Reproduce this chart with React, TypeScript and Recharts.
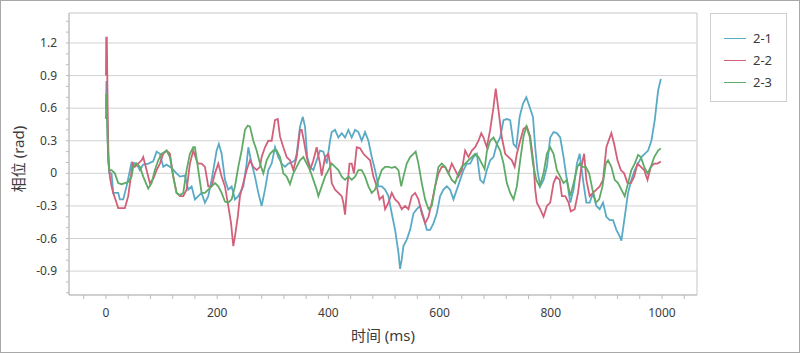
import React from 'react';
import { LineChart, Line, XAxis, YAxis, ReferenceLine, ReferenceArea, Legend } from 'recharts';

const seriesNames = ['2-1', '2-2', '2-3'];
const seriesColors = ['#5aaac6', '#d2607a', '#5fab66'];

const t21 = [0,0.8,3,6,10,13,22,25,31,37,46,55,61,67,76,85,91,97,103,109,118,127,133,142,148,154,160,166,172,178,184,190,196,199,203,208,214,220,226,232,238,247,253,256,262,268,274,280,286,292,298,304,310,316,322,328,334,340,343,349,354,358,362,367,373,379,385,391,397,403,406,412,418,424,430,436,442,448,454,460,466,472,478,484,490,496,502,508,514,520,526,529,532,535,541,547,553,559,565,571,577,583,589,595,601,607,613,619,625,631,637,643,649,655,661,667,673,679,685,691,697,703,709,715,721,727,733,738,744,750,756,762,768,772,776,781,787,793,799,805,811,817,823,829,835,841,847,852,858,864,870,876,882,888,894,900,906,912,918,924,927,933,939,945,951,957,963,969,975,981,987,993,998];
const v21 = [0.6,0.85,0.3,0.0,0.0,-0.18,-0.18,-0.24,-0.24,-0.12,0.1,0.09,0.03,0.08,0.09,0.11,0.2,0.18,0.06,0.08,0.05,0.0,-0.03,-0.02,-0.15,-0.12,-0.24,-0.21,-0.18,-0.27,-0.21,-0.06,0.12,0.21,0.27,0.18,-0.06,-0.15,-0.12,-0.24,-0.21,-0.12,0.09,0.24,0.09,-0.03,-0.18,-0.3,-0.15,0.03,0.09,0.24,0.15,0.09,0.06,0.09,0.1,0.12,0.18,0.43,0.52,0.43,0.15,0.06,0.03,0.12,0.21,0.2,0.09,0.3,0.38,0.4,0.33,0.37,0.33,0.4,0.33,0.4,0.38,0.3,0.38,0.3,0.15,0.03,-0.12,-0.12,-0.15,-0.21,-0.37,-0.52,-0.73,-0.88,-0.79,-0.67,-0.61,-0.52,-0.37,-0.33,-0.3,-0.4,-0.52,-0.52,-0.46,-0.37,-0.21,-0.15,-0.12,-0.15,-0.24,-0.15,-0.06,0.03,0.09,0.09,0.15,0.18,-0.06,-0.09,0.03,0.12,0.15,0.27,0.33,0.49,0.5,0.49,0.27,0.24,0.52,0.64,0.7,0.61,0.52,0.24,0.03,-0.12,-0.06,0.06,0.33,0.38,0.37,0.33,0.15,-0.06,-0.27,-0.15,0.09,0.18,-0.06,-0.27,-0.27,-0.18,-0.3,-0.33,-0.27,-0.4,-0.43,-0.43,-0.52,-0.58,-0.62,-0.4,-0.18,-0.06,0.03,0.09,0.15,0.18,0.21,0.3,0.49,0.76,0.87];

const t22 = [0,0.5,1.5,3,4.5,7,10,13,19,22,28,34,40,44,48,52,58,64,67,73,79,85,91,97,103,109,115,121,127,133,139,145,151,157,163,166,172,178,184,190,196,202,208,214,220,225,229,232,237,241,247,253,259,265,271,277,280,286,292,298,304,309,313,319,325,331,337,343,349,352,356,361,367,373,379,385,388,394,400,403,406,412,418,424,427,430,433,438,442,446,451,457,463,469,475,481,487,492,498,502,508,514,520,526,532,538,544,550,556,562,568,574,580,586,592,598,604,610,616,622,628,634,640,646,652,658,664,670,675,679,685,691,697,701,706,712,718,724,730,735,739,745,751,757,763,769,772,775,781,787,793,799,805,810,816,820,826,832,836,843,849,855,860,864,870,876,882,888,894,900,904,909,914,920,926,932,938,944,950,956,962,968,974,980,986,992,998];
const v22 = [0.9,1.25,1.25,0.6,0.15,-0.03,-0.12,-0.18,-0.27,-0.32,-0.32,-0.32,-0.21,-0.06,0.09,0.06,0.09,0.12,0.15,0.03,-0.09,-0.05,0.03,0.09,0.18,0.21,0.18,-0.03,-0.18,-0.21,-0.21,-0.15,0.09,0.21,0.12,0.09,0.09,0.06,-0.12,-0.12,0.0,0.09,-0.03,-0.12,-0.3,-0.46,-0.67,-0.58,-0.4,-0.21,-0.09,0.03,0.12,0.06,0.03,0.06,0.15,0.24,0.3,0.3,0.49,0.5,0.34,0.24,0.15,0.12,0.03,0.15,0.4,0.4,0.3,0.15,0.03,0.12,0.24,0.09,-0.02,0.15,0.18,0.09,-0.09,-0.15,-0.18,-0.21,-0.27,-0.38,-0.18,0.09,0.09,0.0,0.24,0.23,0.18,0.15,0.12,-0.03,-0.12,-0.24,-0.21,-0.33,-0.27,-0.18,-0.24,-0.27,-0.33,-0.3,-0.33,-0.21,-0.18,-0.24,-0.37,-0.46,-0.4,-0.27,-0.12,0.0,0.06,0.06,0.0,0.09,0.03,-0.03,0.03,0.21,0.15,0.21,0.24,0.3,0.37,0.33,0.24,0.4,0.61,0.78,0.58,0.33,0.18,0.15,0.12,0.06,0.18,0.3,0.41,0.43,0.34,0.09,-0.15,-0.27,-0.33,-0.4,-0.3,-0.27,-0.09,-0.03,-0.06,-0.21,-0.21,-0.27,-0.35,-0.33,-0.18,0.06,0.18,-0.06,-0.21,-0.18,-0.15,-0.12,-0.06,0.24,0.3,0.37,0.27,0.12,0.03,0.0,-0.09,-0.09,-0.03,0.09,0.06,0.03,-0.06,0.06,0.09,0.09,0.11];

const t23 = [0,0.5,2,4,6,10,16,22,28,34,40,46,49,55,61,67,76,82,88,94,100,109,115,121,127,133,139,145,151,157,160,166,172,178,184,190,196,202,208,214,220,226,232,238,244,250,255,259,265,271,277,283,289,295,301,307,313,319,325,331,337,343,349,355,361,367,373,379,382,388,394,400,406,412,418,424,430,436,442,448,454,460,466,472,478,484,490,496,502,508,514,520,526,531,535,541,547,553,557,562,568,574,580,586,592,598,604,610,616,622,628,634,640,646,652,658,664,670,676,681,685,691,697,703,709,715,721,727,733,739,745,751,756,762,768,774,780,787,793,799,805,811,817,823,829,835,841,848,852,857,863,869,875,881,887,893,899,903,909,915,921,927,933,939,945,951,957,962,968,974,980,986,993,998];
const v23 = [0.5,0.73,0.5,0.1,0.03,0.03,0.0,-0.09,-0.1,-0.09,-0.08,-0.03,0.06,0.09,0.06,-0.03,-0.14,-0.09,0.03,0.12,0.18,0.21,0.15,-0.03,-0.18,-0.2,-0.18,0.03,0.18,0.24,0.24,0.03,-0.18,-0.18,-0.15,-0.12,-0.09,-0.12,-0.18,-0.26,-0.27,-0.24,-0.12,0.06,0.21,0.4,0.44,0.43,0.3,0.21,0.09,0.0,0.12,0.18,0.21,0.21,0.15,0.0,-0.03,-0.1,0.0,0.06,0.12,0.15,0.09,0.03,-0.06,-0.15,-0.21,-0.12,-0.03,0.03,0.09,0.06,0.03,-0.03,-0.06,-0.03,-0.06,-0.03,0.03,0.03,-0.03,-0.12,-0.18,-0.15,-0.06,0.03,0.06,0.06,0.05,0.06,0.03,-0.12,-0.03,0.09,0.15,0.18,0.2,0.09,-0.09,-0.24,-0.33,-0.3,-0.12,0.06,0.09,0.06,0.0,-0.06,-0.09,0.0,0.06,0.09,0.12,0.15,0.18,0.15,0.09,0.04,0.2,0.3,0.33,0.27,0.21,0.09,-0.09,-0.18,-0.24,-0.12,0.12,0.34,0.43,0.34,0.09,-0.06,-0.12,0.0,0.18,0.24,0.18,0.03,-0.03,-0.09,-0.06,-0.21,-0.09,0.06,0.09,0.06,0.06,0.0,-0.15,-0.27,-0.24,-0.12,0.09,0.12,0.06,-0.06,-0.09,-0.15,-0.21,-0.09,0.03,0.09,0.17,0.15,0.06,0.0,0.06,0.15,0.21,0.23];

const xMajorTicks = [0, 200, 400, 600, 800, 1000];
const yMajorTicks = [-0.9, -0.6, -0.3, 0, 0.3, 0.6, 0.9, 1.2];
const xTitle = '时间 (ms)';
const yTitle = '相位 (rad)';

const X_DOMAIN: [number, number] = [-66.5, 1063];
const Y_DOMAIN: [number, number] = [-1.12, 1.476];

const xMinorTicks = Array.from({ length: 28 }, (_, i) => -40 + i * 40);
const yMinorTicks = Array.from({ length: 26 }, (_, i) => Math.round((-1.1 + i * 0.1) * 10) / 10);

const toData = (t: number[], v: number[]) => t.map((x, i) => ({ t: x, v: v[i] }));
const seriesData = [toData(t21, v21), toData(t22, v22), toData(t23, v23)];

const FONT = "'Noto Sans', 'Noto Sans CJK SC', sans-serif";
const TEXT = '#3c3c3c';
const AXIS = '#bdbdbd';

const XTick = (props: any) => {
  const { x, y, payload } = props;
  const v = payload.value;
  const major = xMajorTicks.includes(v);
  return (
    <g>
      <line x1={x} x2={x} y1={y} y2={y + 4} stroke={AXIS} strokeWidth={1} />
      {major && (
        <text x={x} y={y + 22} textAnchor="middle" fontSize={12} fontFamily={FONT} fill={TEXT}>
          {String(v)}
        </text>
      )}
    </g>
  );
};

const YTick = (props: any) => {
  const { x, y, payload } = props;
  const v = payload.value;
  const major = yMajorTicks.some((m) => Math.abs(m - v) < 1e-6);
  return (
    <g>
      <line x1={x - 3} x2={x} y1={y} y2={y} stroke={AXIS} strokeWidth={1} />
      {major && (
        <text x={x - 12} y={y + 4} textAnchor="end" fontSize={12} fontFamily={FONT} fill={TEXT}>
          {v === 0 ? '0' : v.toFixed(1)}
        </text>
      )}
    </g>
  );
};

const LegendBox = () => (
  <div
    style={{
      width: 77,
      height: 89,
      border: '1px solid #cfcfcf',
      boxSizing: 'border-box',
      background: '#fff',
      paddingTop: 13,
      fontFamily: FONT,
    }}
  >
    {seriesNames.map((n, i) => (
      <div key={n} style={{ display: 'flex', alignItems: 'center', height: 22 }}>
        <div style={{ width: 22, height: 0, borderTop: `1.5px solid ${seriesColors[i]}`, marginLeft: 13 }} />
        <span style={{ marginLeft: 7, fontSize: 13, color: TEXT }}>{n}</span>
      </div>
    ))}
  </div>
);

export default function App() {
  return (
    <div style={{ position: 'absolute', left: 0, top: 0, width: 800, height: 353, background: '#fff' }}>
      <LineChart width={800} height={353} margin={{ top: 13, right: 103, bottom: 28, left: 0 }}>
        <ReferenceArea
          x1={X_DOMAIN[0]}
          x2={X_DOMAIN[1]}
          y1={Y_DOMAIN[0]}
          y2={Y_DOMAIN[1]}
          fill="none"
          stroke="#c6c6c6"
          strokeWidth={1}
          ifOverflow="visible"
        />
        {yMajorTicks.map((y) => (
          <ReferenceLine key={y} y={y} stroke="#d2d2d2" strokeWidth={1} />
        ))}
        <XAxis
          dataKey="t"
          type="number"
          domain={X_DOMAIN}
          allowDataOverflow
          ticks={xMinorTicks}
          interval={0}
          tick={<XTick />}
          tickLine={false}
          tickSize={0}
          tickMargin={0}
          height={30}
          stroke={AXIS}
          label={{
            content: (p: any) => {
              const vb = p.viewBox;
              return (
                <text x={vb.x + vb.width / 2} y={vb.y + 46} textAnchor="middle" fontSize={15} fontFamily={FONT} fill={TEXT}>
                  {xTitle}
                </text>
              );
            },
          }}
        />
        <YAxis
          type="number"
          domain={Y_DOMAIN}
          allowDataOverflow
          ticks={yMinorTicks}
          interval={0}
          tick={<YTick />}
          tickLine={false}
          tickSize={0}
          tickMargin={0}
          width={69}
          stroke={AXIS}
          label={{
            content: (p: any) => {
              const vb = p.viewBox;
              const cx = 18;
              const cy = vb.y + vb.height / 2 + 5;
              return (
                <text x={cx} y={cy} transform={`rotate(-90 ${cx} ${cy})`} textAnchor="middle" dominantBaseline="central" fontSize={15} fontFamily={FONT} fill={TEXT}>
                  {yTitle}
                </text>
              );
            },
          }}
        />
        {seriesData.map((d, i) => (
          <Line
            key={seriesNames[i]}
            data={d}
            dataKey="v"
            name={seriesNames[i]}
            type="linear"
            stroke={seriesColors[i]}
            strokeWidth={1.8}
            dot={false}
            activeDot={false}
            isAnimationActive={false}
          />
        ))}
        <Legend
          layout="vertical"
          align="center"
          verticalAlign="middle"
          content={() => <LegendBox />}
          wrapperStyle={{ left: 710, top: 13, width: 77, height: 89 }}
        />
      </LineChart>
      <div
        style={{
          position: 'absolute',
          left: 0,
          top: 0,
          width: 800,
          height: 353,
          border: '1px solid #a8a8a8',
          boxSizing: 'border-box',
          pointerEvents: 'none',
        }}
      />
    </div>
  );
}
